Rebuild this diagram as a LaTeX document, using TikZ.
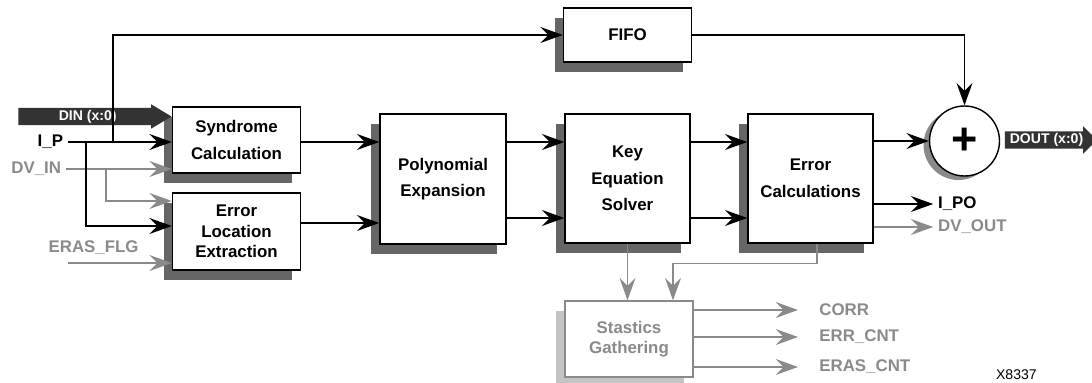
\documentclass[tikz,border=0pt]{standalone}
\usepackage{fontspec}
\setmainfont{Liberation Sans}
\usetikzlibrary{arrows.meta,shadows,shapes.arrows}
\definecolor{shade}{HTML}{666666}
\definecolor{lightshade}{HTML}{C4C4C4}
\definecolor{siggray}{HTML}{8A8A8A}
\definecolor{busgray}{HTML}{333333}

\begin{document}
\begin{tikzpicture}[
    box/.style={rectangle, draw, line width=1pt, fill=white, minimum width=3.2cm, align=center,
        font=\fontsize{12}{19}\selectfont\bfseries,
        drop shadow={shadow xshift=-0.225cm, shadow yshift=-0.25cm, fill=shade, opacity=1}},
    statbox/.style={box, draw=siggray, text=siggray, font=\fontsize{12}{14.5}\selectfont\bfseries,
        drop shadow={shadow xshift=-0.225cm, shadow yshift=-0.25cm, fill=lightshade, opacity=1}},
    adder/.style={circle, draw, line width=1pt, fill=white, minimum size=1.75cm, inner sep=0pt,
        font=\fontsize{32}{32}\selectfont\bfseries,
        drop shadow={shadow xshift=-0.15cm, shadow yshift=-0.1cm, fill=siggray, opacity=1}},
    bus/.style={single arrow, fill=busgray, text=white, inner ysep=1.5pt, text height=7pt, text depth=2pt,
        font=\fontsize{10}{12}\selectfont\bfseries},
    sig/.style={font=\fontsize{12}{14}\selectfont\bfseries},
    arrow/.style={-{Stealth[length=0.56cm, width=0.4cm, inset=0.2cm]}, line width=1pt},
    garrow/.style={arrow, draw=siggray}
]
    \useasboundingbox (0,0) rectangle (27.3,9.55);

    % Blocchi
    \node[box, minimum height=1.65cm] (syn) at (5.9125,6.05) {Syndrome\\Calculation};
    \node[box, minimum height=1.925cm, font=\fontsize{12}{14.5}\selectfont\bfseries] (ele) at (5.9125,3.7625) {Error\\Location\\Extraction};
    \node[box, minimum width=3.15cm, minimum height=3.25cm] (poly) at (11.075,5.075) {Polynomial\\Expansion};
    \node[box, minimum width=3.125cm, minimum height=3.225cm] (kes) at (15.6875,5.0875) {Key\\Equation\\Solver};
    \node[box, minimum width=3.125cm, minimum height=3.225cm] (errc) at (20.2625,5.0875) {Error\\Calculations};
    \node[box, minimum height=1.35cm] (fifo) at (15.6875,8.675) {FIFO};
    \node[statbox, minimum height=1.9cm] (stats) at (15.725,1.075) {Stastics\\Gathering};
    \node[adder] (add) at (24.1125,6.025) {+};

    % Bus dati
    \node[bus, anchor=tip, minimum height=3.825cm, single arrow head extend=0.0875cm, single arrow tip angle=62] (din) at (4.3,6.6375) {DIN (x:0)};
    \node[bus, minimum height=2.275cm, single arrow head extend=0.125cm] (dout) at (26.1625,6.05) {DOUT (x:0)};

    % Segnali
    \node[sig, anchor=east] (ip) at (1.7,6.0) {I\_P};
    \node[sig, anchor=east, text=siggray] (dvin) at (1.65,5.325) {DV\_IN};
    \node[sig, text=siggray] (eras) at (2.34,3.35) {ERAS\_FLG};
    \coordinate (erasin) at (1.7,2.975);
    \node[sig, anchor=west] (ipo) at (23.33,4.45) {I\_PO};
    \node[sig, anchor=west, text=siggray] (dvout) at (23.33,3.875) {DV\_OUT};
    \node[sig, anchor=west, text=siggray] (corr) at (20.36,1.8) {CORR};
    \node[sig, anchor=west, text=siggray] (errcnt) at (20.36,1.125) {ERR\_CNT};
    \node[sig, anchor=west, text=siggray] (erascnt) at (20.36,0.375) {ERAS\_CNT};
    \node[font=\fontsize{10}{12}\selectfont] (fig) at (25.41,0.175) {X8337};

    % Ingressi
    \draw[garrow] (dvin.east) -- (dvin.east -| syn.west);
    \draw[garrow] (dvin.east -| 2.65,0) |- (ele.west |- 0,4.525);
    \draw[garrow] (erasin) -- (erasin -| ele.west);
    \draw[arrow] (ip.east) -- (ip.east -| syn.west);
    \draw[arrow] (ip.east -| 2.15,0) |- (ele.west |- 0,3.9);
    \draw[arrow] (ip.east -| 2.825,0) |- (fifo.west);

    % Catena di decodifica
    \draw[arrow] (syn.east |- 0,6.0) -- (poly.west |- 0,6.0);
    \draw[arrow] (ele.east |- 0,3.975) -- (poly.west |- 0,3.975);
    \draw[arrow] (poly.east |- 0,6.0) -- (kes.west |- 0,6.0);
    \draw[arrow] (poly.east |- 0,4.1) -- (kes.west |- 0,4.1);
    \draw[arrow] (kes.east |- 0,6.0) -- (errc.west |- 0,6.0);
    \draw[arrow] (kes.east |- 0,4.1) -- (errc.west |- 0,4.1);

    % Uscite
    \draw[arrow] (fifo.east) -| (add.north);
    \draw[arrow] (errc.east |- add.west) -- (add.west);
    \draw[arrow] (errc.east |- ipo.west) -- (ipo.west);
    \draw[garrow] (errc.east |- dvout.west) -- (dvout.west);

    % Statistiche
    \draw[garrow] (kes.south) -- (kes.south |- stats.north);
    \draw[garrow] ([xshift=0.16cm]errc.south) -- ++(0,-0.5) -| ([xshift=1.1cm]stats.north);
    \draw[garrow] (stats.east |- corr.west) -- ([xshift=-0.41cm]corr.west);
    \draw[garrow] (stats.east |- errcnt.west) -- ([xshift=-0.41cm]errcnt.west);
    \draw[garrow] (stats.east |- erascnt.west) -- ([xshift=-0.41cm]erascnt.west);
\end{tikzpicture}
\end{document}
